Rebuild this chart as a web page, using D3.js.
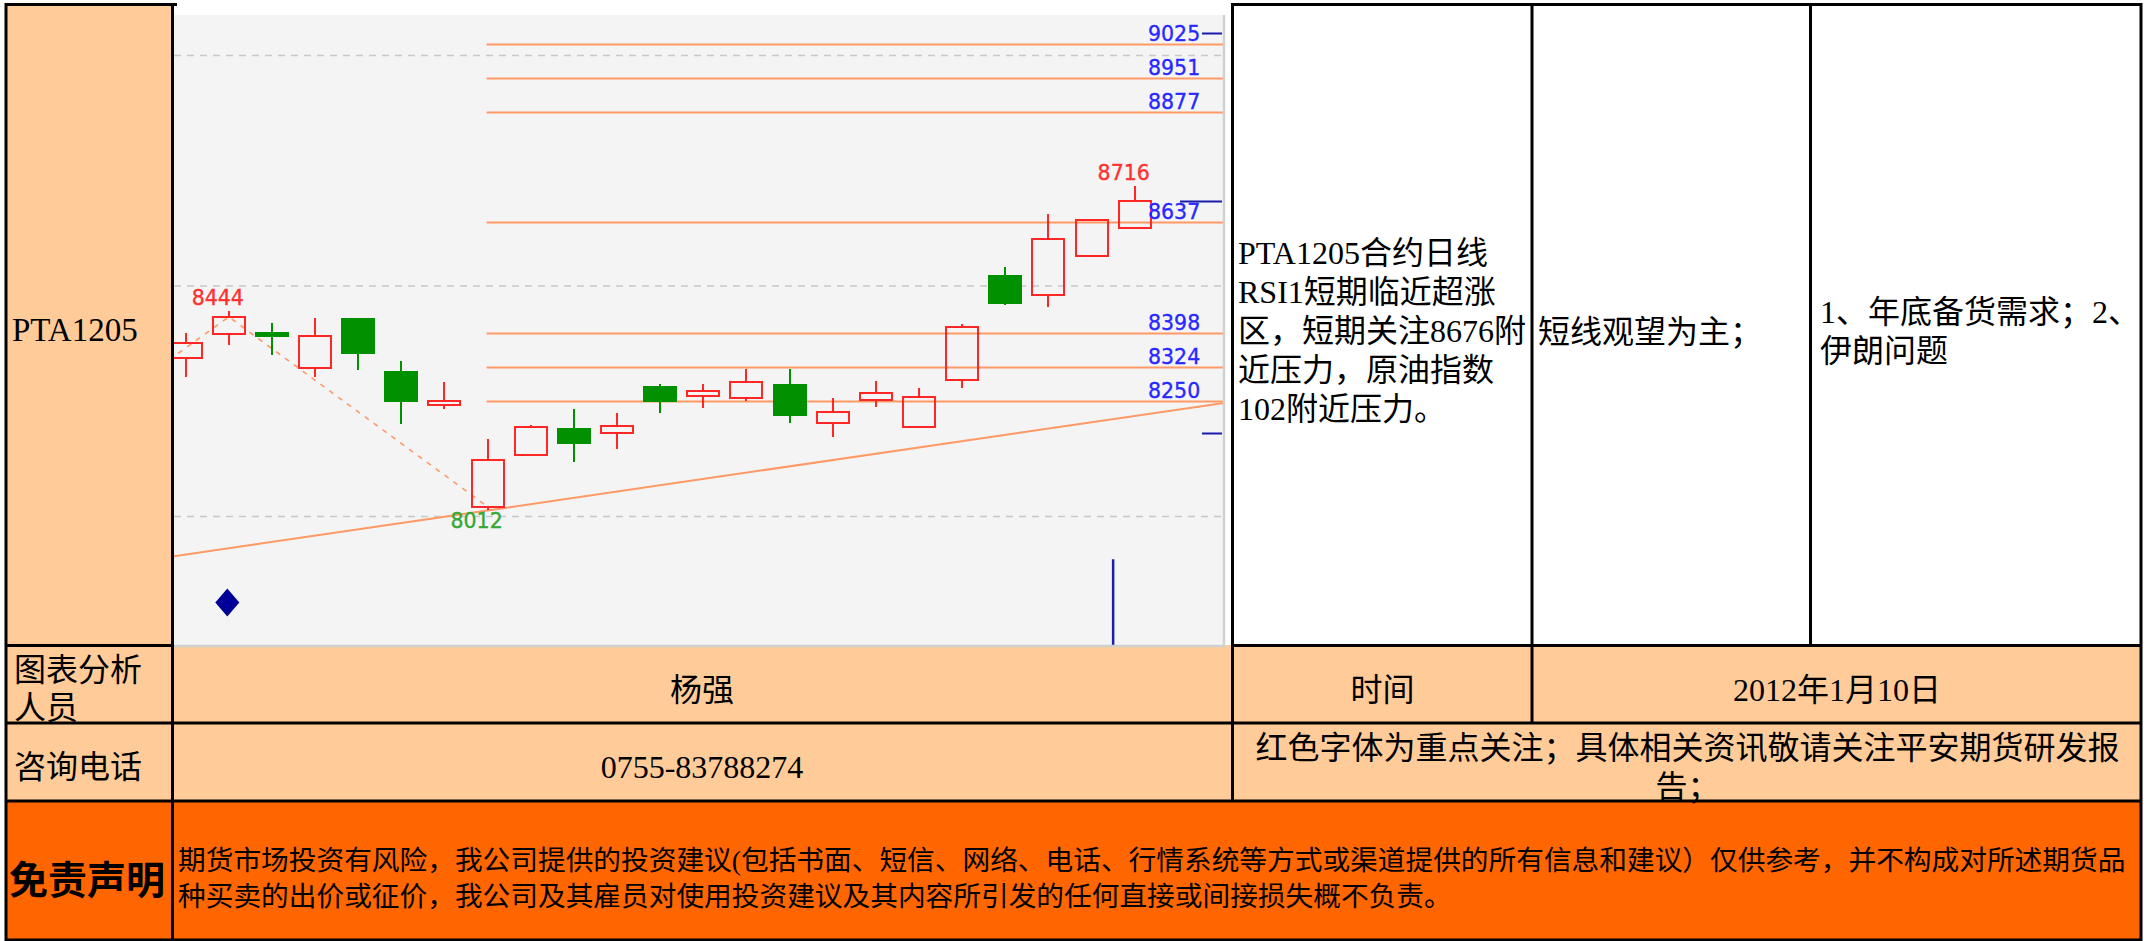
<!DOCTYPE html>
<html><head><meta charset="utf-8">
<script src="https://cdn.jsdelivr.net/npm/d3@7"></script>
<style>html,body{margin:0;padding:0;background:#fff}svg{display:block}</style>
</head><body>
<svg id="c" width="2144" height="941"></svg>
<script>
// ---------------- DATA ----------------
const dates = ["2011-12-07","2011-12-08","2011-12-09","2011-12-12","2011-12-13","2011-12-14","2011-12-15","2011-12-16","2011-12-19","2011-12-20","2011-12-21","2011-12-22","2011-12-23","2011-12-26","2011-12-27","2011-12-28","2011-12-29","2011-12-30","2012-01-04","2012-01-05","2012-01-06","2012-01-09","2012-01-10"];
const open  = [8343,8394,8396,8320,8427,8312,8241,8020,8133,8188,8181,8280,8260,8255,8284,8202,8252,8194,8295,8521,8479,8564,8625];
const high  = [8398,8444,8419,8429,8430,8337,8290,8166,8197,8233,8223,8287,8287,8319,8319,8257,8293,8277,8416,8540,8655,8642,8716];
const low   = [8301,8371,8349,8301,8317,8200,8231,8012,8130,8116,8145,8224,8234,8250,8201,8171,8237,8194,8278,8458,8453,8564,8625];
const close = [8376,8432,8391,8391,8354,8250,8249,8121,8194,8158,8195,8250,8271,8290,8218,8226,8267,8258,8411,8462,8601,8642,8683];
const levels = [9025,8951,8877,8637,8398,8324,8250];
const gridTicks = [9000,8500,8000];
const trendPoints = [[7,8012],[22,8217]];          // [day index, price]
const zigzagPoints = [[-1,8297],[1,8432],[7,8020]]; // [day index, price]
const extremeIdx = [1,7,22];
const extremeKind = ["high","low","high"];
const diamondSignal = [[1,7812]];
const barSignal = [[21.5,7906,7720]];
const axisMarks = [9047,8683,8181];

const contractName = "PTA1205";
const analysisLines = ["PTA1205合约日线","RSI1短期临近超涨","区，短期关注8676附","近压力，原油指数","102附近压力。"];
const strategyLines = ["短线观望为主；"];
const factorLines = ["1、年底备货需求；2、","伊朗问题"];
const analystLabel = ["图表分析","人员"];
const analystName = "杨强";
const timeLabel = "时间";
const dateText = "2012年1月10日";
const phoneLabel = "咨询电话";
const phoneText = "0755-83788274";
const noteLines = ["红色字体为重点关注；具体相关资讯敬请关注平安期货研发报","告；"];
const disclaimerLabel = "免责声明";
const disclaimerLines = ["期货市场投资有风险，我公司提供的投资建议(包括书面、短信、网络、电话、行情系统等方式或渠道提供的所有信息和建议）仅供参考，并不构成对所述期货品","种买卖的出价或征价，我公司及其雇员对使用投资建议及其内容所引发的任何直接或间接损失概不负责。"];

// ---------------- LAYOUT ----------------
const svg = d3.select("#c");
const BEIGE = "#FFCC99", ORANGE = "#FF6600";
const tf = '"Liberation Serif","Noto Sans CJK SC",serif';
const cf = '"DejaVu Sans",Verdana,sans-serif';

// table backgrounds
svg.append("rect").attr("x",0).attr("y",0).attr("width",2144).attr("height",941).attr("fill","#fff");
svg.append("rect").attr("x",5).attr("y",3).attr("width",168).attr("height",643).attr("fill",BEIGE);
svg.append("rect").attr("x",5).attr("y",645).attr("width",2137).attr("height",156).attr("fill",BEIGE);
svg.append("rect").attr("x",5).attr("y",801).attr("width",2137).attr("height",140).attr("fill",ORANGE);

// ---------------- CHART ----------------
const CL = 174, CR = 1224, CT = 15, CB = 645;
const x = d3.scaleLinear().domain([-0.27, 24.07]).range([CL, CR]);
const y = d3.scaleLinear().domain([7720, 9087]).range([CB, CT]);

svg.append("rect").attr("x",CL).attr("y",CT).attr("width",CR-CL).attr("height",CB-CT).attr("fill","#F4F4F4");
svg.append("defs").append("clipPath").attr("id","clip")
  .append("rect").attr("x",CL).attr("y",CT).attr("width",CR-CL).attr("height",CB-CT);
const g = svg.append("g").attr("clip-path","url(#clip)");

// gridlines via axis
const grid = g.append("g").attr("transform",`translate(${CL},0)`)
  .call(d3.axisLeft(y).tickValues(gridTicks).tickSize(-(CR-CL)).tickFormat(""));
grid.select(".domain").remove();
grid.selectAll(".tick line").attr("stroke","#C8C8C8").attr("stroke-width",1.5).attr("stroke-dasharray","7,6");

// level lines
const lowIdx = extremeIdx[extremeKind.indexOf("low")];
g.selectAll(".lvl").data(levels).join("line")
  .attr("x1", x(lowIdx)-1).attr("x2", CR)
  .attr("y1", d=>Math.round(y(d))+0.5).attr("y2", d=>Math.round(y(d))+0.5)
  .attr("stroke","#FF9966").attr("stroke-width",2);

// trend line (extended across the chart)
const slope = (trendPoints[1][1]-trendPoints[0][1])/(trendPoints[1][0]-trendPoints[0][0]);
const tp = i => trendPoints[0][1] + (i - trendPoints[0][0])*slope;
const [d0, d1] = x.domain();
g.append("line").attr("x1",x(d0)).attr("y1",y(tp(d0))).attr("x2",x(d1)).attr("y2",y(tp(d1)))
  .attr("stroke","#FF9966").attr("stroke-width",2);

// zigzag dashed line
g.append("path").datum(zigzagPoints)
  .attr("d", d3.line().x(d=>x(d[0])).y(d=>y(d[1])))
  .attr("fill","none").attr("stroke","#FF9966").attr("stroke-width",1.6).attr("stroke-dasharray","5,6");

// candles
const RED = "#FF2626", GREEN = "#009000";
const bw = 32;
const candles = dates.map((d,i)=>({i, o:open[i], h:high[i], l:low[i], c:close[i]}));
const cg = g.selectAll(".cdl").data(candles).join("g");
cg.each(function(d){
  const s = d3.select(this);
  const cx = Math.round(x(d.i));
  const up = d.c >= d.o;
  const col = up ? RED : GREEN;
  const top = Math.round(y(Math.max(d.o,d.c))), bot = Math.round(y(Math.min(d.o,d.c)));
  const yh = Math.round(y(d.h)), yl = Math.round(y(d.l));
  if (up) {
    if (yh < top) s.append("line").attr("x1",cx).attr("x2",cx).attr("y1",yh).attr("y2",top).attr("stroke",col).attr("stroke-width",2);
    if (yl > bot) s.append("line").attr("x1",cx).attr("x2",cx).attr("y1",bot).attr("y2",yl).attr("stroke",col).attr("stroke-width",2);
    s.append("rect").attr("x",cx-bw/2).attr("y",top).attr("width",bw).attr("height",Math.max(bot-top,1))
      .attr("fill","none").attr("stroke",col).attr("stroke-width",2);
  } else {
    s.append("line").attr("x1",cx).attr("x2",cx).attr("y1",yh).attr("y2",yl).attr("stroke",col).attr("stroke-width",2);
    s.append("rect").attr("x",cx-bw/2).attr("y",top).attr("width",bw).attr("height",Math.max(bot-top,1))
      .attr("fill",col).attr("stroke",col).attr("stroke-width",2);
  }
});

// extreme labels
g.selectAll(".ext").data(extremeIdx.map((i,k)=>({i, kind:extremeKind[k], v: extremeKind[k]==="high"?high[i]:low[i]})))
  .join("text")
  .attr("x", d=>x(d.i)-11)
  .attr("y", d=>d.kind==="high" ? y(d.v)-13 : y(d.v)+11)
  .attr("text-anchor","middle").attr("dominant-baseline","central")
  .attr("font-family",cf).attr("font-size",20.5)
  .attr("fill", d=>d.kind==="high" ? "#FF3030" : "#33A833")
  .attr("stroke", d=>d.kind==="high" ? "#FF3030" : "#33A833").attr("stroke-width",0.35)
  .text(d=>d.v);

// level labels
g.selectAll(".lvlt").data(levels).join("text")
  .attr("x", CR-76).attr("y", d=>y(d)-10)
  .attr("dominant-baseline","central")
  .attr("font-family",cf).attr("font-size",20.5).attr("fill","#2828FF")
  .attr("stroke","#2828FF").attr("stroke-width",0.35)
  .text(d=>d);

// right-edge marks
const lastClose = close[close.length-1];
g.selectAll(".mk").data(axisMarks).join("line")
  .attr("x1", d=> d===lastClose ? CR-44 : CR-22).attr("x2", CR-2)
  .attr("y1", d=>Math.round(y(d))+0.5).attr("y2", d=>Math.round(y(d))+0.5)
  .attr("stroke","#1A1AA8").attr("stroke-width",2);

// signals
g.selectAll(".dia").data(diamondSignal).join("path")
  .attr("d", d=>{const cx=x(d[0])-1.5, cy=y(d[1]); return `M${cx},${cy-14}L${cx+12},${cy}L${cx},${cy+14}L${cx-12},${cy}Z`;})
  .attr("fill","#000099");
g.selectAll(".bar").data(barSignal).join("line")
  .attr("x1", d=>x(d[0])).attr("x2", d=>x(d[0]))
  .attr("y1", d=>y(d[1])).attr("y2", d=>y(d[2]))
  .attr("stroke","#1E1EA8").attr("stroke-width",2.5);

// chart frame edges
svg.append("line").attr("x1",CR).attr("x2",CR).attr("y1",CT).attr("y2",CB+2).attr("stroke","#D0D0D0").attr("stroke-width",2.5);
svg.append("line").attr("x1",CL).attr("x2",CR+1).attr("y1",CB+1).attr("y2",CB+1).attr("stroke","#D0D0D0").attr("stroke-width",2.5);

// ---------------- TABLE BORDERS ----------------
const borders = [
  [5,4.5,177,4.5],[1231,4.5,2142,4.5],
  [5,645.5,173,645.5],[1231,645.5,2142,645.5],
  [5,723,2142,723],[5,801,2142,801],[5,940,2142,940],
  [6,3,6,941],[172.5,3,172.5,941],[1232.5,3,1232.5,802],[1532,3,1532,724],[1810.5,3,1810.5,646],[2141,3,2141,941]
];
svg.selectAll(".bd").data(borders).join("line")
  .attr("x1",d=>d[0]).attr("y1",d=>d[1]).attr("x2",d=>d[2]).attr("y2",d=>d[3])
  .attr("stroke","#000").attr("stroke-width",3);

// ---------------- TABLE TEXT ----------------
function block(lines, tx, cy, opts={}) {
  const lh = opts.lh || 38.8, size = opts.size || 32;
  const n = lines.length;
  svg.append("g").selectAll("text").data(lines).join("text")
    .attr("x", tx)
    .attr("y", (d,k)=> cy + (k-(n-1)/2)*lh)
    .attr("text-anchor", opts.anchor || "start")
    .attr("dominant-baseline","central")
    .attr("font-family", opts.font || tf)
    .attr("font-size", size)
    .attr("font-weight", opts.weight || 400)
    .attr("fill","#000")
    .text(d=>d);
}
block([contractName], 12, 330, {size:33});
block(analysisLines, 1238, 331);
block(strategyLines, 1538, 331.5);
block(factorLines, 1820, 331.5);
block(analystLabel, 14, 689, {lh:38.5});
block([analystName], 702, 690, {anchor:"middle"});
block([timeLabel], 1382.5, 690, {anchor:"middle"});
block([dateText], 1837, 690, {anchor:"middle"});
block([phoneLabel], 14, 767);
block([phoneText], 702, 767, {anchor:"middle"});
block(noteLines, 1687.5, 767.5, {anchor:"middle", lh:38.4});
block([disclaimerLabel], 9, 877, {size:39, weight:700, font:'"Noto Sans CJK SC",sans-serif'});
block(disclaimerLines, 178, 878.5, {size:27.7, lh:36.7});
</script>
</body></html>
